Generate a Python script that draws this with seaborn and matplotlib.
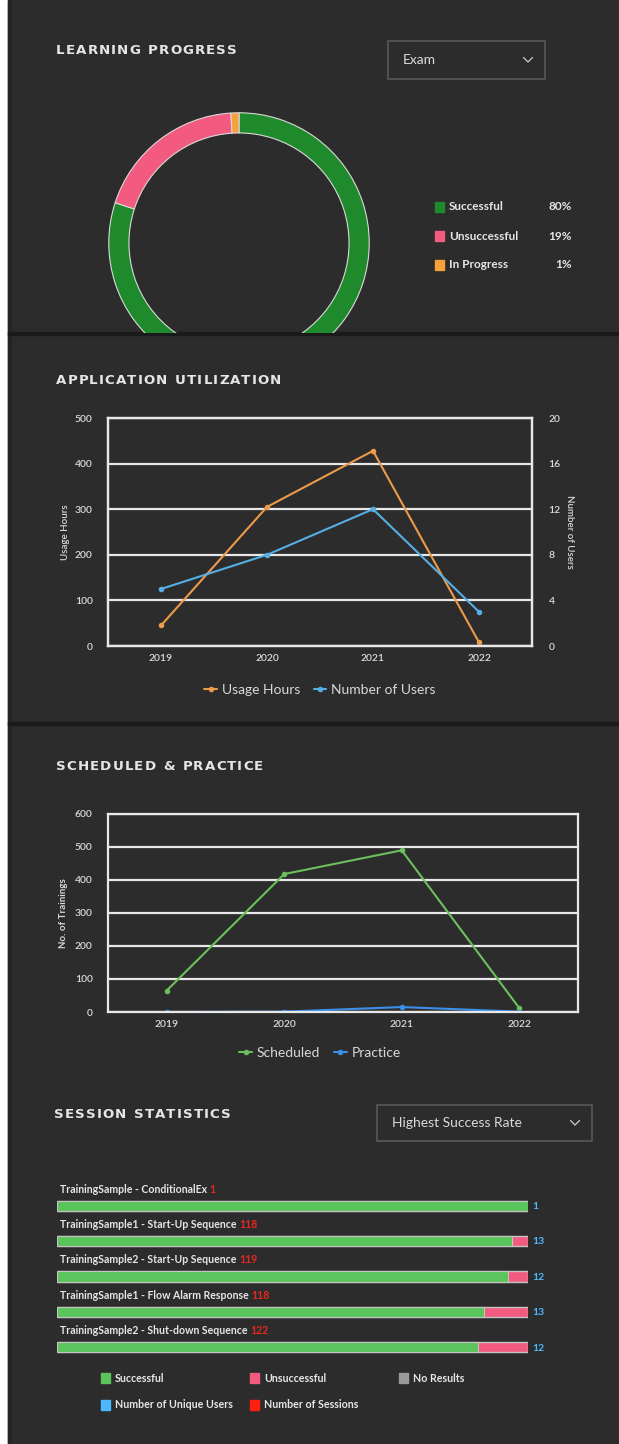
import matplotlib
matplotlib.use("Agg")
import matplotlib.pyplot as plt
import seaborn as sns
import pandas as pd
from matplotlib.patches import Rectangle
from matplotlib.lines import Line2D

# ---------------- data ----------------
progress_labels = ["Successful", "Unsuccessful", "In Progress"]
progress_values = [80, 19, 1]
progress_pct_text = ["80%", "19%", "1%"]

years = ["2019", "2020", "2021", "2022"]
usage_hours = [45, 305, 428, 8]
num_users = [5, 8, 12, 3]

scheduled = [65, 418, 490, 12]
practice = [0, 1, 15, 1]

session_names = ["TrainingSample - ConditionalEx",
                 "TrainingSample1 - Start-Up Sequence",
                 "TrainingSample2 - Start-Up Sequence",
                 "TrainingSample1 - Flow Alarm Response",
                 "TrainingSample2 - Shut-down Sequence"]
session_counts = [1, 118, 119, 118, 122]
session_successful = [1, 114, 114, 107, 109]
session_unsuccessful = [0, 4, 5, 11, 13]
unique_users = [1, 13, 12, 13, 12]

session_legend = ["Successful", "Unsuccessful", "No Results",
                  "Number of Unique Users", "Number of Sessions"]

# ---------------- style ----------------
sns.set_theme(style="dark")
plt.rcParams["font.family"] = ["Lato", "DejaVu Sans"]

W, H = 619, 1444
BG = "#2c2c2c"
TXT = "#e6e6e6"
TICK = "#dadada"
GRID = "#e8e8e8"
DGREEN = "#1f8a2b"
PINK = "#f25a7f"
ORANGE_P = "#f7a03c"
ORANGE = "#ec9a4c"
BLUE = "#55aee4"
SGREEN = "#6cc05c"
SBLUE = "#3a8fe6"
BGREEN = "#5cc45c"
GREY = "#9a9a9a"
UBLUE = "#4db8ff"
RED = "#ff1f12"

fig = plt.figure(figsize=(W / 100, H / 100), dpi=100, facecolor="white")
bg = fig.add_axes([0, 0, 1, 1])
bg.set_xlim(0, W)
bg.set_ylim(H, 0)
bg.axis("off")
bg.add_patch(Rectangle((8, 0), W - 8, H, color=BG, zorder=0))
bg.add_patch(Rectangle((8, 0), 3, H, color="#242424", zorder=0.5))
for ysep in (332, 722):
    bg.add_patch(Rectangle((8, ysep), W - 8, 3, color="#1a1a1a", zorder=1))


def axes_px(x0, y0, x1, y1):
    return fig.add_axes([x0 / W, 1 - y1 / H, (x1 - x0) / W, (y1 - y0) / H])


def spaced_title(x, y, s, size=9.6, track=1.1, space=6.5):
    t = bg.text(x, y, s[0], fontsize=size, fontweight="bold", color=TXT,
                va="center", ha="left", family=["DejaVu Sans"])
    extra = 0.0
    for ch in s[1:]:
        if ch == " ":
            extra += space
            continue
        t = bg.annotate(ch, xy=(1, 0), xycoords=t, xytext=(track + extra, 0),
                        textcoords="offset pixels", va="bottom", ha="left",
                        fontsize=size, fontweight="bold", color=TXT,
                        family=["DejaVu Sans"])
        extra = 0.0


def dropdown(x0, y0, x1, y1, label, size=10):
    bg.add_patch(Rectangle((x0, y0), x1 - x0, y1 - y0, fill=False,
                           ec="#5c5c5c", lw=1.1, zorder=2))
    yc = (y0 + y1) / 2
    bg.text(x0 + 15, yc, label, fontsize=size, color="#dadada",
            va="center", ha="left")
    cx = x1 - 17
    bg.plot([cx - 4.5, cx, cx + 4.5], [yc - 2.5, yc + 2, yc - 2.5],
            color="#cfcfcf", lw=0.9, zorder=3)


def style_line_axes(ax):
    ax.set_facecolor("none")
    for sp in ax.spines.values():
        sp.set_visible(True)
        sp.set_color(GRID)
        sp.set_linewidth(1.6)
    ax.tick_params(length=0, labelsize=7.5, colors=TICK)
    for lab in ax.get_xticklabels() + ax.get_yticklabels():
        lab.set_fontweight("semibold")
    ax.grid(axis="y", color=GRID, lw=1.6)
    ax.grid(axis="x", visible=False)
    ax.set_xlabel("")


# ================= Panel 1: Learning progress =================
spaced_title(56, 50, "LEARNING PROGRESS")
dropdown(388, 41, 545, 79, "Exam")

axp = axes_px(108, 112, 370, 333)
wedges, _ = axp.pie(progress_values, colors=[DGREEN, PINK, ORANGE_P],
                    startangle=90, counterclock=False, radius=1,
                    wedgeprops=dict(width=0.155, edgecolor="#d9d9d9",
                                    linewidth=0.8))
for w in wedges:
    w.set_clip_on(True)
    w.set_clip_path(axp.patch)
axp.set_aspect("auto")
axp.set_xlim(-1.006, 1.006)
axp.set_ylim(1.006 - 221 / 130.2, 1.006)
axp.axis("off")

for i, (lab, pct, col) in enumerate(zip(progress_labels, progress_pct_text,
                                        [DGREEN, PINK, ORANGE_P])):
    yy = 207 + i * 29
    bg.add_patch(Rectangle((435, yy - 5), 9, 10, color=col, zorder=2))
    bg.text(449, yy, lab, fontsize=8.5, fontweight="bold", color=TXT,
            va="center", ha="left")
    bg.text(572, yy, pct, fontsize=8.5, fontweight="bold", color=TXT,
            va="center", ha="right")

# ================= Panel 2: Application utilization =================
spaced_title(56, 381, "APPLICATION UTILIZATION")
df1 = pd.DataFrame({"Year": years, "Usage Hours": usage_hours,
                    "Number of Users": num_users})
ax1 = axes_px(108, 418, 532, 646)
sns.lineplot(data=df1, x="Year", y="Usage Hours", ax=ax1, color=ORANGE,
             marker="o", markersize=4, markeredgewidth=0, linewidth=1.5,
             legend=False)
ax1b = ax1.twinx()
sns.lineplot(data=df1, x="Year", y="Number of Users", ax=ax1b, color=BLUE,
             marker="o", markersize=4, markeredgewidth=0, linewidth=1.5,
             legend=False)
ax1.set_xlim(-0.5, 3.5)
ax1.set_ylim(0, 500)
ax1.set_yticks(range(0, 501, 100))
ax1b.set_ylim(0, 20)
ax1b.set_yticks(range(0, 21, 4))
style_line_axes(ax1)
style_line_axes(ax1b)
ax1b.grid(False)
ax1.tick_params(axis="y", pad=11)
ax1.tick_params(axis="x", pad=6)
ax1b.tick_params(axis="y", pad=12)
ax1.set_ylabel("Usage Hours", fontsize=7, color=TICK, fontweight="semibold")
ax1.yaxis.set_label_coords(-0.09, 0.5)
ax1b.set_ylabel("Number of Users", fontsize=7, color=TICK, rotation=270,
                va="bottom", fontweight="semibold")
ax1b.yaxis.set_label_coords(1.078, 0.5)

h1 = [Line2D([0], [0], color=ORANGE, marker="o", markersize=4, lw=1.5,
             markeredgewidth=0),
      Line2D([0], [0], color=BLUE, marker="o", markersize=4, lw=1.5,
             markeredgewidth=0)]
fig.legend(h1, ["Usage Hours", "Number of Users"], loc="center",
           bbox_to_anchor=(320 / W, 1 - 690 / H), ncol=2, frameon=False,
           fontsize=10, labelcolor="#d8d8d8", handlelength=0.9,
           handletextpad=0.35, columnspacing=1.0)

# ================= Panel 3: Scheduled & practice =================
spaced_title(56, 767, "SCHEDULED & PRACTICE")
df2 = pd.DataFrame({"Year": years, "Scheduled": scheduled,
                    "Practice": practice})
ax2 = axes_px(108, 814, 578, 1012)
sns.lineplot(data=df2, x="Year", y="Scheduled", ax=ax2, color=SGREEN,
             marker="o", markersize=4, markeredgewidth=0, linewidth=1.5,
             legend=False)
sns.lineplot(data=df2, x="Year", y="Practice", ax=ax2, color=SBLUE,
             marker="o", markersize=4, markeredgewidth=0, linewidth=1.5,
             legend=False)
ax2.set_xlim(-0.5, 3.5)
ax2.set_ylim(0, 600)
ax2.set_yticks(range(0, 601, 100))
style_line_axes(ax2)
ax2.tick_params(axis="y", pad=11)
ax2.tick_params(axis="x", pad=6)
ax2.set_ylabel("No. of Trainings", fontsize=7, color=TICK,
               fontweight="bold")
ax2.yaxis.set_label_coords(-0.085, 0.5)

h2 = [Line2D([0], [0], color=SGREEN, marker="o", markersize=4, lw=1.5,
             markeredgewidth=0),
      Line2D([0], [0], color=SBLUE, marker="o", markersize=4, lw=1.5,
             markeredgewidth=0)]
fig.legend(h2, ["Scheduled", "Practice"], loc="center",
           bbox_to_anchor=(320 / W, 1 - 1053 / H), ncol=2, frameon=False,
           fontsize=10, labelcolor="#d8d8d8", handlelength=0.9,
           handletextpad=0.35, columnspacing=1.0)

# ================= Panel 4: Session statistics =================
spaced_title(54, 1114, "SESSION STATISTICS")
dropdown(377, 1105, 592, 1141, "Highest Success Rate")

df3 = pd.DataFrame({
    "name": session_names,
    "done_pct": [(s + u) / c * 100 for s, u, c in
                 zip(session_successful, session_unsuccessful, session_counts)],
    "succ_pct": [s / c * 100 for s, c in zip(session_successful, session_counts)],
})
axb = axes_px(57, 1188, 528, 1365)
sns.barplot(data=df3, x="done_pct", y="name", orient="h", color=PINK,
            saturation=1, width=0.29, edgecolor="#c4c4c4", linewidth=1.0,
            ax=axb)
sns.barplot(data=df3, x="succ_pct", y="name", orient="h", color=BGREEN,
            saturation=1, width=0.29, edgecolor="#c4c4c4", linewidth=0.8,
            ax=axb)
axb.set_xlim(0, 100)
axb.set_ylim(4.5, -0.5)
axb.axis("off")

for i, (nm, cnt, usr) in enumerate(zip(session_names, session_counts,
                                       unique_users)):
    t = axb.text(0.6, i - 0.47, nm, fontsize=7.6, fontweight="bold",
                 color=TXT, va="center", ha="left", clip_on=False)
    axb.annotate(str(cnt), xy=(1, 0), xycoords=t, xytext=(2.0, 0),
                 textcoords="offset points", va="bottom", ha="left",
                 fontsize=7.6, fontweight="bold", color="#e8281e")
    axb.text(100.85, i + 0.02, str(usr), fontsize=7.5, fontweight="bold",
             color=UBLUE, va="center", ha="left", clip_on=False)

leg_cols = [BGREEN, PINK, GREY, UBLUE, RED]
leg_pos = [(101, 1378), (250, 1378), (399, 1378), (101, 1405), (250, 1405)]
for lab, col, (lx, ly) in zip(session_legend, leg_cols, leg_pos):
    bg.add_patch(Rectangle((lx, ly - 5), 9, 10, color=col, zorder=2))
    bg.text(lx + 14, ly, lab, fontsize=7.7, fontweight="bold", color=TXT,
            va="center", ha="left")

fig.savefig("out.png", dpi=100, facecolor=fig.get_facecolor())
